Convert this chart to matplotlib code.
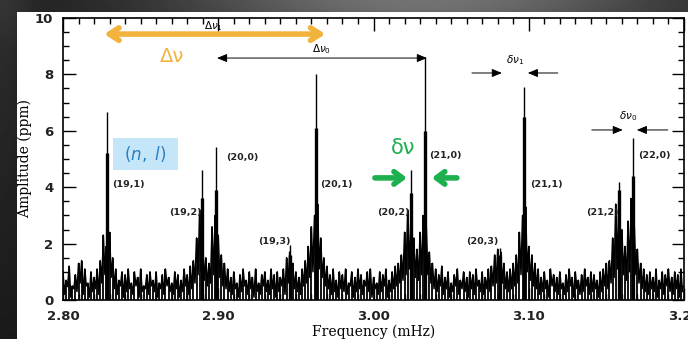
import numpy as np
import matplotlib
matplotlib.use("Agg")
import matplotlib.pyplot as plt
from matplotlib.patches import Rectangle

# ---------------- data ----------------
freq_start, freq_step = 2.800, 0.002
noise = [
    1.0, 0.7, 1.2, 0.5, 0.9, 1.3, 1.4, 1.1, 0.6, 1.0,
    0.8, 1.1, 1.4, 2.3, 1.9, 2.4, 1.5, 1.1, 0.7, 1.0,
    0.9, 1.1, 0.6, 1.0, 0.8, 1.1, 0.5, 0.9, 1.0, 0.7,
    1.0, 0.6, 0.9, 1.1, 0.8, 0.6, 1.0, 0.9, 0.7, 1.1,
    0.9, 1.2, 1.4, 2.2, 3.2, 2.0, 1.5, 1.3, 2.6, 3.0,
    2.3, 1.6, 1.3, 1.1, 0.8, 1.0, 0.6, 0.9, 1.1, 0.7,
    1.0, 0.8, 1.1, 0.6, 0.9, 1.0, 0.7, 1.1, 0.9, 1.0,
    0.8, 1.1, 1.5, 1.7, 1.3, 1.0, 0.8, 1.1, 1.4, 1.9,
    2.6, 3.0, 3.4, 2.2, 1.5, 1.2, 0.9, 1.1, 0.7, 1.0,
    0.9, 1.1, 0.6, 1.0, 0.8, 1.1, 0.9, 0.7, 1.0, 1.1,
    0.8, 0.6, 1.0, 0.9, 1.1, 0.7, 1.0, 1.2, 1.3, 1.6,
    2.4, 3.2, 2.8, 2.2, 1.8, 2.4, 3.0, 2.6, 1.7, 1.3,
    1.1, 0.9, 1.2, 0.8, 1.0, 0.6, 0.9, 1.1, 0.7, 1.0,
    0.8, 1.0, 0.9, 1.1, 0.7, 1.0, 0.8, 1.1, 1.2, 1.6,
    1.8, 1.7, 1.3, 1.0, 1.1, 1.3, 1.6, 2.4, 3.0, 3.3,
    1.9, 1.6, 1.3, 1.1, 0.8, 1.0, 0.7, 1.1, 0.9, 0.8,
    1.0, 0.6, 0.9, 1.1, 0.8, 1.0, 0.7, 0.9, 1.1, 0.8,
    1.0, 0.9, 0.7, 1.0, 1.1, 1.3, 1.4, 2.2, 3.4, 3.6,
    2.5, 1.9, 2.8, 3.6, 2.6, 1.8, 1.3, 1.1, 0.9, 1.0,
    0.8, 1.1, 0.7, 1.0, 0.9, 1.1, 0.8, 1.0, 0.9, 1.1,
]
# low points of the spectrum between the spikes
trough = [
    0.2, 0.5, 0.1, 0.4, 0.3, 0.6, 0.2, 0.5, 0.1, 0.3,
    0.4, 0.2, 0.6, 0.9, 0.7, 0.8, 0.4, 0.2, 0.5, 0.1,
    0.3, 0.4, 0.2, 0.5, 0.1, 0.3, 0.4, 0.2, 0.5, 0.3,
    0.1, 0.4, 0.2, 0.5, 0.3, 0.2, 0.4, 0.1, 0.3, 0.5,
    0.2, 0.4, 0.6, 0.9, 1.0, 0.7, 0.5, 0.6, 0.9, 1.1,
    0.8, 0.5, 0.4, 0.3, 0.2, 0.4, 0.1, 0.3, 0.5, 0.2,
    0.4, 0.1, 0.3, 0.2, 0.5, 0.3, 0.2, 0.4, 0.1, 0.3,
    0.5, 0.2, 0.6, 0.7, 0.4, 0.3, 0.2, 0.5, 0.6, 0.8,
    1.0, 1.2, 1.1, 0.8, 0.5, 0.4, 0.2, 0.3, 0.1, 0.4,
    0.3, 0.2, 0.5, 0.1, 0.3, 0.4, 0.2, 0.5, 0.3, 0.1,
    0.4, 0.2, 0.3, 0.5, 0.1, 0.3, 0.4, 0.5, 0.6, 0.7,
    0.9, 1.1, 1.0, 0.8, 0.7, 0.9, 1.0, 0.9, 0.6, 0.4,
    0.3, 0.5, 0.2, 0.4, 0.1, 0.3, 0.5, 0.2, 0.4, 0.3,
    0.1, 0.4, 0.2, 0.5, 0.3, 0.2, 0.4, 0.3, 0.5, 0.6,
    0.7, 0.6, 0.4, 0.3, 0.4, 0.5, 0.6, 0.9, 1.1, 1.0,
    0.7, 0.5, 0.4, 0.2, 0.3, 0.4, 0.1, 0.5, 0.3, 0.2,
    0.4, 0.2, 0.3, 0.5, 0.1, 0.4, 0.2, 0.3, 0.5, 0.2,
    0.3, 0.4, 0.1, 0.3, 0.5, 0.4, 0.6, 0.8, 1.1, 1.2,
    0.9, 0.7, 1.0, 1.2, 0.9, 0.6, 0.4, 0.3, 0.2, 0.4,
    0.3, 0.1, 0.4, 0.2, 0.5, 0.3, 0.2, 0.4, 0.1, 0.3,
]

mode_labels = ["(19,1)", "(19,2)", "(20,0)", "(19,3)", "(20,1)", "(20,2)",
               "(21,0)", "(20,3)", "(21,1)", "(21,2)", "(22,0)"]
mode_freq = [2.8285, 2.8897, 2.8986, 2.9460, 2.9627, 3.0239,
             3.0331, 3.0812, 3.0968, 3.1581, 3.1673]
mode_amp = [6.68, 4.6, 5.42, 1.95, 8.0, 4.6, 8.6, 1.85, 7.55, 4.2, 5.74]
mode_core = [5.2, 3.6, 3.9, 1.6, 6.1, 3.8, 6.0, 1.6, 6.5, 3.9, 4.4]
label_x = [2.8419, 2.8786, 2.9153, 2.9359, 2.9764, 3.0125,
           3.0460, 3.0698, 3.1116, 3.1477, 3.1812]
label_y = [4.11, 3.09, 5.07, 2.06, 4.11, 3.09, 5.14, 2.06, 4.11, 3.09, 5.14]

x_ticks = [2.80, 2.90, 3.00, 3.10, 3.20]
x_ticklabels = ["2.80", "2.90", "3.00", "3.10", "3.20"]
y_ticks = [0, 2, 4, 6, 8, 10]

# ---------------- figure ----------------
W, H = 688, 339
fig = plt.figure(figsize=(W / 100, H / 100), dpi=100)

# dark gradient background
bg = fig.add_axes([0, 0, 1, 1])
bg.set_axis_off()
yy, xx = np.mgrid[0:H, 0:W]
shade = 0.10 + 0.35 * np.exp(-((yy - 0) / 40.0) ** 2) * np.exp(-((xx - 420) / 260.0) ** 2) \
        + 0.08 * np.exp(-((xx - 0) / 30.0) ** 2) * (1 - yy / H)
bg.imshow(shade, cmap="gray", vmin=0, vmax=1, aspect="auto", extent=[0, W, H, 0])
bg.set_xlim(0, W)
bg.set_ylim(H, 0)
bg.add_patch(Rectangle((17, 12), W - 17, H - 12, facecolor="white", edgecolor="none"))

ax = fig.add_axes([63 / W, (H - 300) / H, (684 - 63) / W, (300 - 18) / H])
ax.set_facecolor("white")

freq = freq_start + freq_step * np.arange(len(noise))
# zig-zag spectrum: each sample's spike, then the low point before the next one
zx = np.empty(2 * len(noise))
zy = np.empty(2 * len(noise))
zx[0::2] = freq
zx[1::2] = freq + freq_step / 2
zy[0::2] = noise
zy[1::2] = trough
ax.plot(zx, zy, color="black", lw=1.1)
ax.vlines(freq, 0, noise, color="black", lw=1.3)
ax.vlines(mode_freq, 0, mode_amp, color="black", lw=1.0)
ax.vlines(mode_freq, 0, mode_core, color="black", lw=2.4)

for lab, lx, ly in zip(mode_labels, label_x, label_y):
    ax.text(lx, ly, lab, fontsize=6.8, ha="center", va="center",
            family="DejaVu Sans", fontweight="bold", color="#222222")

ax.set_xlim(2.80, 3.20)
ax.set_ylim(0, 10)
ax.set_xticks(x_ticks)
ax.set_xticklabels(x_ticklabels)
ax.set_yticks(y_ticks)
ax.set_xticks(np.arange(2.80, 3.2001, 0.01), minor=True)
ax.set_yticks(np.arange(0, 10.01, 0.5), minor=True)
ax.tick_params(which="both", direction="in", top=True, right=True, width=1.0)
ax.tick_params(which="major", length=9, labelsize=9.5, pad=7)
ax.tick_params(which="minor", length=4.5)
for t in ax.get_xticklabels() + ax.get_yticklabels():
    t.set_fontweight("bold")
    t.set_color("#222222")
for s in ax.spines.values():
    s.set_linewidth(1.2)
ax.set_xlabel("Frequency (mHz)", family="DejaVu Serif", fontsize=10, labelpad=1)
ax.set_ylabel("Amplitude (ppm)", family="DejaVu Serif", fontsize=10, labelpad=2)

# Δν1 label and orange Δν arrow
ax.text(2.8966, 9.72, r"$\Delta\nu_1$", fontsize=7.5, ha="center", va="center")
ax.annotate("", xy=(2.8265, 9.43), xytext=(2.9690, 9.43),
            arrowprops=dict(arrowstyle="<->,head_length=0.7,head_width=0.45",
                            color="#f2b33d", lw=4, shrinkA=0, shrinkB=0))
ax.text(2.870, 8.65, "Δν", fontsize=14, color="#f2b33d", ha="center", va="center")

# Δν0 black arrow
ax.annotate("", xy=(2.8992, 8.58), xytext=(3.0344, 8.58),
            arrowprops=dict(arrowstyle="<|-|>,head_length=0.6,head_width=0.25",
                            color="black", lw=0.7, shrinkA=0, shrinkB=0))
ax.text(2.9668, 8.90, r"$\Delta\nu_0$", fontsize=7.5, ha="center", va="center")

# δν1 arrows
ax.annotate("", xy=(3.0827, 8.05), xytext=(3.0634, 8.05),
            arrowprops=dict(arrowstyle="-|>,head_length=0.6,head_width=0.25",
                            color="black", lw=0.7, shrinkA=0, shrinkB=0))
ax.annotate("", xy=(3.0994, 8.05), xytext=(3.1187, 8.05),
            arrowprops=dict(arrowstyle="-|>,head_length=0.6,head_width=0.25",
                            color="black", lw=0.7, shrinkA=0, shrinkB=0))
ax.text(3.0911, 8.5, r"$\delta\nu_1$", fontsize=7.5, ha="center", va="center")

# δν0 arrows
ax.annotate("", xy=(3.1606, 6.03), xytext=(3.1406, 6.03),
            arrowprops=dict(arrowstyle="-|>,head_length=0.6,head_width=0.25",
                            color="black", lw=0.7, shrinkA=0, shrinkB=0))
ax.annotate("", xy=(3.1696, 6.03), xytext=(3.1896, 6.03),
            arrowprops=dict(arrowstyle="-|>,head_length=0.6,head_width=0.25",
                            color="black", lw=0.7, shrinkA=0, shrinkB=0))
ax.text(3.1638, 6.52, r"$\delta\nu_0$", fontsize=7.5, ha="center", va="center")

# green δν arrows
green = "#1db04f"
ax.annotate("", xy=(3.0215, 4.33), xytext=(3.0009, 4.33),
            arrowprops=dict(arrowstyle="->,head_length=0.6,head_width=0.45",
                            color=green, lw=4, shrinkA=0, shrinkB=0))
ax.annotate("", xy=(3.0376, 4.33), xytext=(3.0537, 4.33),
            arrowprops=dict(arrowstyle="->,head_length=0.6,head_width=0.45",
                            color=green, lw=4, shrinkA=0, shrinkB=0))
ax.text(3.0189, 5.39, "δν", fontsize=15, color=green, ha="center", va="center")

# (n, l) box
ax.add_patch(Rectangle((2.8322, 4.61), 0.0419, 1.13, facecolor="#c5e6f8",
                       edgecolor="none", zorder=3))
ax.text(2.8531, 5.18, r"$(n,\ l)$", fontsize=12, color="#2a7fc0",
        ha="center", va="center", zorder=4)

fig.savefig("out.png", dpi=100, facecolor=fig.get_facecolor())
